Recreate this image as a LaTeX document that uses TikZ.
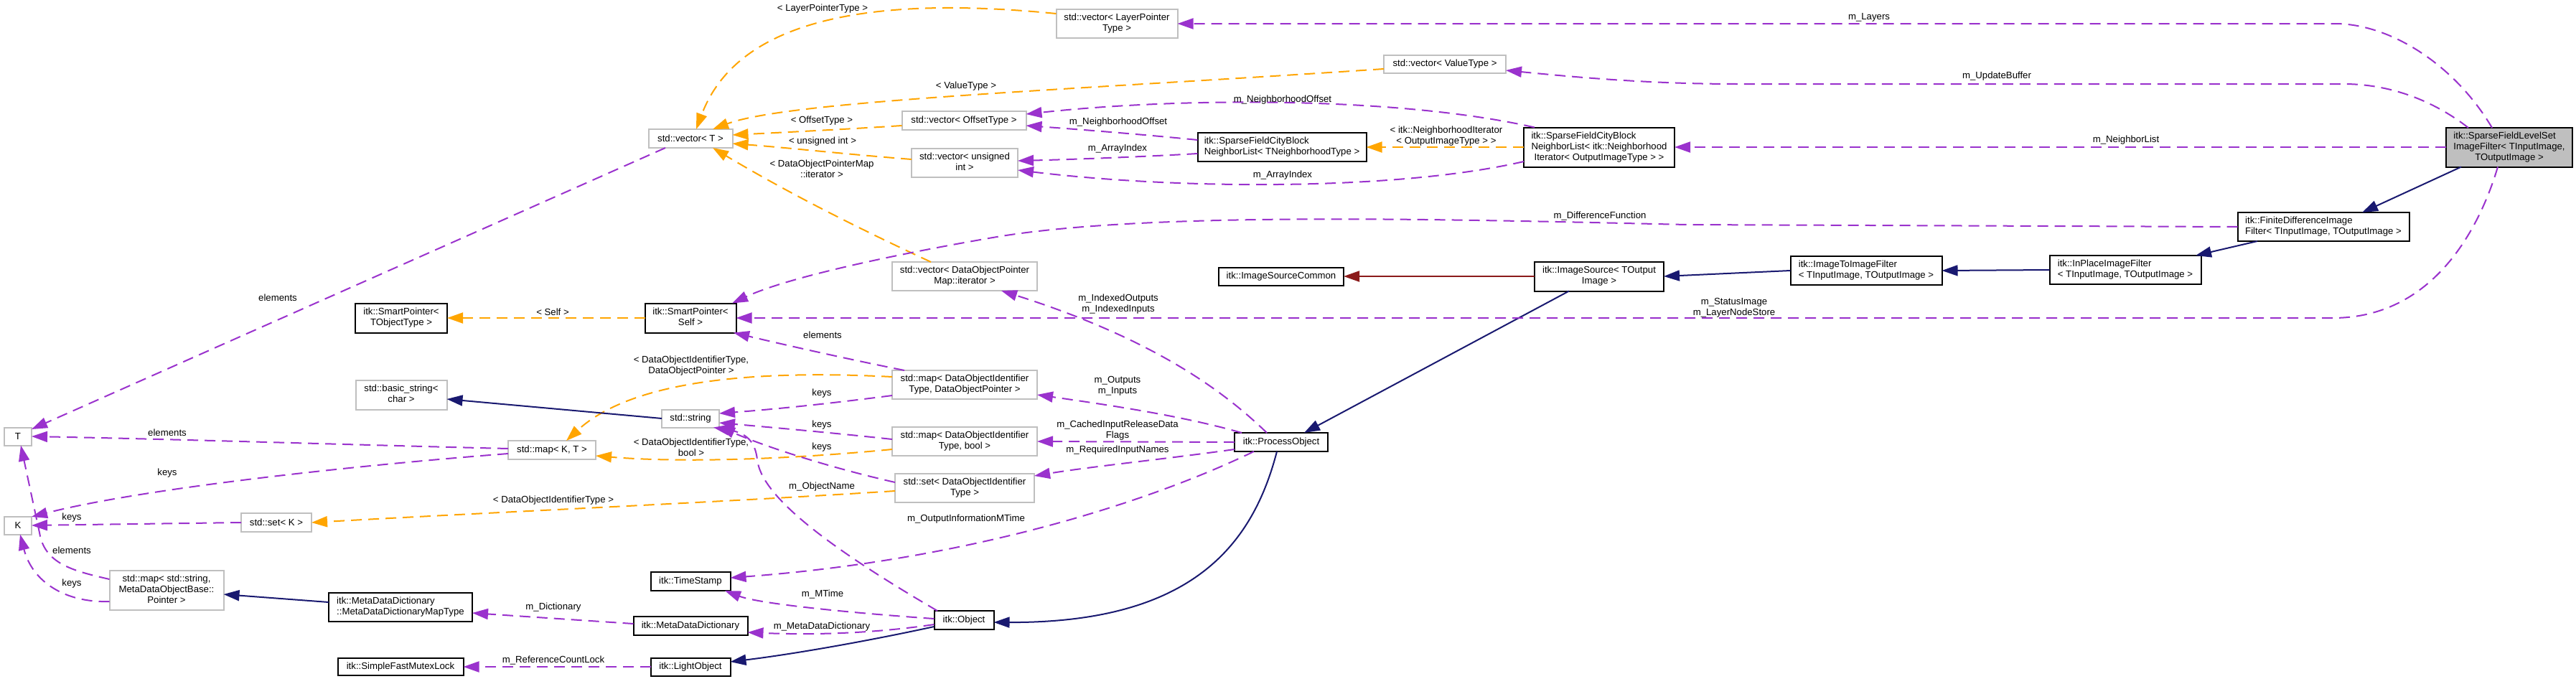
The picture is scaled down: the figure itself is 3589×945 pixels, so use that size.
\documentclass[tikz,border=0pt]{standalone}
\usepackage{fontspec}
\setmainfont{Liberation Sans}
\usetikzlibrary{arrows.meta,calc}
\definecolor{purp}{HTML}{9A32CD}
\definecolor{orng}{HTML}{FFA500}
\definecolor{navyc}{HTML}{191970}
\definecolor{fireb}{HTML}{8B1A1A}
\definecolor{gborder}{HTML}{BFBFBF}
\newcommand{\LL}[2]{\begin{tabular}{@{}l@{}}#1\\\multicolumn{1}{@{}c@{}}{#2}\end{tabular}}
\newcommand{\CC}[1]{\begin{tabular}{@{}c@{}}#1\end{tabular}}
\begin{document}
\begin{tikzpicture}[x=1pt,y=-1pt,
  font=\fontsize{13.2}{15}\selectfont,
  every node/.style={inner sep=0pt, outer sep=0pt},
  gb/.style={draw=gborder, line width=2pt, fill=white, rectangle},
  bb/.style={draw=black, line width=2pt, fill=white, rectangle},
  sz/.style 2 args={minimum width=#1pt, minimum height=#2pt},
  lbl/.style={align=center},
  tipa/.style={-{Triangle[length=22pt,width=15pt]}},
  pe/.style={draw=purp, line width=2pt, dash pattern=on 15pt off 9pt, tipa},
  oe/.style={draw=orng, line width=2pt, dash pattern=on 15pt off 9pt, tipa},
  ne/.style={draw=navyc, line width=2pt, tipa},
  re/.style={draw=fireb, line width=2pt, tipa}]
\fill[white] (0,0) rectangle (3589,945);
\useasboundingbox (0,0) rectangle (3589,945);

% nodes
\node[bb,sz={176}{55},fill=gborder] (sfls) at (3496,205) {\LL{itk::SparseFieldLevelSet\\ImageFilter< TInputImage,}{TOutputImage >}};
\node[bb,sz={239}{40}] (fdif) at (3237,316) {\LL{itk::FiniteDifferenceImage}{Filter< TInputImage, TOutputImage >}};
\node[bb,sz={211}{40}] (inplace) at (2961,376) {\LL{itk::InPlaceImageFilter}{< TInputImage, TOutputImage >}};
\node[bb,sz={211}{40}] (i2i) at (2600,377) {\LL{itk::ImageToImageFilter}{< TInputImage, TOutputImage >}};
\node[bb,sz={180}{41}] (isrc) at (2228,385) {\LL{itk::ImageSource< TOutput}{Image >}};
\node[bb,sz={174}{25}] (isc) at (1785,385) {itk::ImageSourceCommon};
\node[bb,sz={130}{26}] (po) at (1785,616) {itk::ProcessObject};
\node[bb,sz={83}{26}] (obj) at (1343,864) {itk::Object};
\node[bb,sz={111}{25}] (lobj) at (962,929) {itk::LightObject};
\node[bb,sz={175}{24}] (sfml) at (558,929) {itk::SimpleFastMutexLock};
\node[bb,sz={159}{26}] (mdd) at (962,872) {itk::MetaDataDictionary};
\node[bb,sz={200}{40}] (mddmt) at (558,846) {\LL{itk::MetaDataDictionary}{::MetaDataDictionaryMapType}};
\node[gb,sz={159}{55}] (mapstr) at (232,822) {\CC{std::map< std::string,\\MetaDataObjectBase::\\Pointer >}};
\node[gb,sz={38}{25}] (T) at (25,608) {T};
\node[gb,sz={38}{25}] (K) at (25,732) {K};
\node[gb,sz={98}{26}] (setK) at (385,728) {std::set< K >};
\node[gb,sz={122}{26}] (mapKT) at (769,627) {std::map< K, T >};
\node[gb,sz={127}{41}] (bstr) at (559,550) {\CC{std::basic\_string<\\char >}};
\node[gb,sz={80}{25}] (str) at (962,583) {std::string};
\node[bb,sz={111}{26}] (ts) at (962,810) {itk::TimeStamp};
\node[bb,sz={128}{41}] (spTO) at (559,443) {\LL{itk::SmartPointer<}{TObjectType >}};
\node[bb,sz={127}{41}] (spS) at (962,443) {\LL{itk::SmartPointer<}{Self >}};
\node[gb,sz={117}{26}] (vecT) at (962,193) {std::vector< T >};
\node[gb,sz={202}{40}] (vecDOP) at (1344,385) {\CC{std::vector< DataObjectPointer\\Map::iterator >}};
\node[gb,sz={202}{40}] (mapDOP) at (1344,536) {\CC{std::map< DataObjectIdentifier\\Type, DataObjectPointer >}};
\node[gb,sz={202}{40}] (mapDB) at (1344,615) {\CC{std::map< DataObjectIdentifier\\Type, bool >}};
\node[gb,sz={194}{40}] (setD) at (1344,680) {\CC{std::set< DataObjectIdentifier\\Type >}};
\node[gb,sz={173}{26}] (vecOff) at (1343,168) {std::vector< OffsetType >};
\node[gb,sz={148}{40}] (vecUI) at (1344,227) {\CC{std::vector< unsigned\\int >}};
\node[bb,sz={235}{40}] (cbT) at (1786,205) {\LL{itk::SparseFieldCityBlock}{NeighborList< TNeighborhoodType >}};
\node[bb,sz={210}{55}] (cbN) at (2228,205) {\LL{itk::SparseFieldCityBlock\\NeighborList< itk::Neighborhood}{Iterator< OutputImageType > >}};
\node[gb,sz={169}{40}] (vecLP) at (1556,33) {\CC{std::vector< LayerPointer\\Type >}};
\node[gb,sz={170}{25}] (vecVT) at (2013,89) {std::vector< ValueType >};

% edges
\draw[pe] ($(sfls.center)+(-24,-27)$) .. controls (3420,90) and (3330,33) .. (3253,33) -- (vecLP.east);
\draw[pe] ($(sfls.center)+(-57,-27)$) .. controls (3390,140) and (3330,117) .. (3265,117) -- (2420,117) .. controls (2300,117) and (2200,108) .. ($(vecVT.center)+(85,9)$);
\draw[pe] (sfls.west) -- (cbN.east);
\draw[ne] ($(sfls.center)+(-67,27.5)$) -- ($(fdif.center)+(54,-20)$);
\draw[ne] ($(fdif.center)+(-92,20)$) -- ($(inplace.center)+(98,-20)$);
\draw[ne] (inplace.west) -- (i2i.east);
\draw[ne] (i2i.west) -- (isrc.east);
\draw[re] (isrc.west) -- (isc.east);
\draw[ne] ($(isrc.center)+(-42,20.5)$) -- ($(po.center)+(32,-13)$);
\draw[ne] ($(po.center)+(-6,13)$) .. controls (1745,760) and (1660,868) .. ($(obj.center)+(41.5,3)$);
\draw[ne] ($(obj.center)+(-41.5,9)$) .. controls (1200,895) and (1100,912) .. ($(lobj.center)+(55.5,-7)$);
\draw[pe] (lobj.west) -- (sfml.east);
\draw[pe] ($(obj.center)+(-41.5,6)$) .. controls (1200,885) and (1110,884) .. ($(mdd.center)+(79.5,9)$);
\draw[pe] ($(mdd.center)+(-79.5,-3)$) -- ($(mddmt.center)+(100,8)$);
\draw[ne] ($(mddmt.center)+(-100,-7)$) -- ($(mapstr.center)+(79.5,6)$);
\draw[pe] ($(mapstr.center)+(-79.5,16)$) .. controls (90,840) and (45,810) .. ($(K.center)+(3,12.5)$);
\draw[pe] ($(mapstr.center)+(-79.5,-15)$) .. controls (100,795) and (62,785) .. (55,742) -- ($(T.center)+(4,12.5)$);
\draw[pe] (setK.west) -- (K.east);
\draw[oe] ($(setD.center)+(-97,4)$) .. controls (1000,700) and (700,713) .. (setK.east);
\draw[pe] ($(mapKT.center)+(-61,5)$) .. controls (500,648) and (200,680) .. ($(K.center)+(19,-12)$);
\draw[pe] ($(mapKT.center)+(-61,-2)$) .. controls (500,620) and (250,612) .. (T.east);
\draw[oe] ($(mapDOP.center)+(-101,-11)$) .. controls (1050,515) and (880,530) .. ($(mapKT.center)+(20,-13)$);
\draw[oe] ($(mapDB.center)+(-101,11)$) .. controls (1100,640) and (950,645) .. ($(mapKT.center)+(61,8)$);
\draw[pe] ($(mapDOP.center)+(-101,15)$) .. controls (1150,563) and (1080,570) .. ($(str.center)+(40,-7)$);
\draw[pe] ($(mapDB.center)+(-101,-3)$) .. controls (1150,602) and (1080,596) .. ($(str.center)+(40,6)$);
\draw[pe] ($(setD.center)+(-97,-8)$) .. controls (1150,650) and (1060,620) .. ($(str.center)+(40,11)$);
\draw[pe] ($(obj.center)+(-37,-13)$) .. controls (1150,760) and (1060,690) .. (1055,640) .. controls (1052,615) and (1040,603) .. ($(str.center)+(32,12.5)$);
\draw[pe] ($(obj.center)+(-41.5,-2)$) .. controls (1200,855) and (1060,842) .. ($(ts.center)+(48,13)$);
\draw[pe] ($(po.center)+(-38,13)$) .. controls (1600,700) and (1350,780) .. ($(ts.center)+(55.5,-5)$);
\draw[pe] ($(po.center)+(-65,10)$) .. controls (1620,640) and (1520,650) .. ($(setD.center)+(97,-17)$);
\draw[pe] (po.west) -- (mapDB.east);
\draw[pe] ($(po.center)+(-55,-13)$) .. controls (1650,580) and (1550,565) .. ($(mapDOP.center)+(101,14)$);
\draw[pe] ($(po.center)+(-20,-13)$) .. controls (1700,540) and (1600,470) .. ($(vecDOP.center)+(51,20)$);
\draw[oe] ($(vecDOP.center)+(-47,-20)$) .. controls (1200,320) and (1100,270) .. ($(vecT.center)+(31,13)$);
\draw[pe] ($(mapDOP.center)+(-84,-20)$) .. controls (1180,500) and (1100,482) .. ($(spS.center)+(60,20.5)$);
\draw[oe] (cbN.west) -- (cbT.east);
\draw[pe] ($(cbN.center)+(-90,-27.5)$) .. controls (1950,135) and (1650,135) .. ($(vecOff.center)+(86.5,-9)$);
\draw[pe] ($(cbT.center)+(-117.5,-10)$) .. controls (1600,188) and (1500,180) .. ($(vecOff.center)+(86.5,7)$);
\draw[pe] ($(cbT.center)+(-117.5,9)$) .. controls (1600,218) and (1500,222) .. ($(vecUI.center)+(74,-3)$);
\draw[pe] ($(cbN.center)+(-105,20)$) .. controls (1950,265) and (1650,265) .. ($(vecUI.center)+(74,10)$);
\draw[oe] ($(vecOff.center)+(-86.5,7)$) .. controls (1180,180) and (1100,184) .. ($(vecT.center)+(58.5,-5)$);
\draw[oe] ($(vecUI.center)+(-74,-5)$) .. controls (1180,215) and (1100,206) .. ($(vecT.center)+(58.5,7)$);
\draw[oe] ($(vecVT.center)+(-85,7)$) .. controls (1500,125) and (1100,140) .. ($(vecT.center)+(31,-13)$);
\draw[oe] ($(vecLP.center)+(-84.5,-14)$) .. controls (1230,-5) and (1030,20) .. ($(vecT.center)+(8,-13)$);
\draw[pe] ($(vecT.center)+(-35,13)$) -- ($(T.center)+(19,-10)$);
\draw[oe] (spS.west) -- (spTO.east);
\draw[ne] (str.west) -- ($(bstr.center)+(63.5,6)$);
\draw[pe] (fdif.west) -- (2350,313) .. controls (2000,305) and (1600,295) .. (1389,330) .. controls (1260,352) and (1100,385) .. ($(spS.center)+(58,-20.5)$);
\draw[pe] ($(sfls.center)+(-16,27.5)$) .. controls (3460,300) and (3400,443) .. (3250,443) -- (spS.east);

% labels
\node[lbl] (l1) at (2604,24) {m\_Layers};
\node[lbl] (l2) at (2782,106) {m\_UpdateBuffer};
\node[lbl] (l3) at (2962,195) {m\_NeighborList};
\node[lbl] (l4) at (2229,301) {m\_DifferenceFunction};
\node[lbl] (l5) at (2416,428.5) {m\_StatusImage\\m\_LayerNodeStore};
\node[lbl] (l6) at (2015,190) {< itk::NeighborhoodIterator\\< OutputImageType > >};
\node[lbl] (l7) at (1787,139) {m\_NeighborhoodOffset};
\node[lbl] (l8) at (1558,170) {m\_NeighborhoodOffset};
\node[lbl] (l9) at (1557,207) {m\_ArrayIndex};
\node[lbl] (l10) at (1787,244) {m\_ArrayIndex};
\node[lbl] (l11) at (1146,12) {< LayerPointerType >};
\node[lbl] (l12) at (1346,120) {< ValueType >};
\node[lbl] (l13) at (1145,168) {< OffsetType >};
\node[lbl] (l14) at (1146,197) {< unsigned int >};
\node[lbl] (l15) at (1145,235) {< DataObjectPointerMap\\::iterator >};
\node[lbl] (l16) at (1558,424) {m\_IndexedOutputs\\m\_IndexedInputs};
\node[lbl] (l17) at (1146,467) {elements};
\node[lbl] (l18) at (770,435) {< Self >};
\node[lbl] (l19) at (387,415) {elements};
\node[lbl] (l20) at (963,510) {< DataObjectIdentifierType,\\DataObjectPointer >};
\node[lbl] (l21) at (1145,548) {keys};
\node[lbl] (l22) at (1145,592) {keys};
\node[lbl] (l23) at (1145,623) {keys};
\node[lbl] (l24) at (963,623) {< DataObjectIdentifierType,\\bool >};
\node[lbl] (l25) at (1557,538) {m\_Outputs\\m\_Inputs};
\node[lbl] (l26) at (1557,600) {m\_CachedInputReleaseData\\Flags};
\node[lbl] (l27) at (1557,627) {m\_RequiredInputNames};
\node[lbl] (l28) at (1145,678) {m\_ObjectName};
\node[lbl] (l29) at (771,697) {< DataObjectIdentifierType >};
\node[lbl] (l30) at (1346,723) {m\_OutputInformationMTime};
\node[lbl] (l31) at (1146,828) {m\_MTime};
\node[lbl] (l32) at (1145,873) {m\_MetaDataDictionary};
\node[lbl] (l33) at (771,846) {m\_Dictionary};
\node[lbl] (l34) at (771,920) {m\_ReferenceCountLock};
\node[lbl] (l35) at (233,603) {elements};
\node[lbl] (l36) at (233,659) {keys};
\node[lbl] (l37) at (100,721) {keys};
\node[lbl] (l38) at (100,767) {elements};
\node[lbl] (l39) at (100,813) {keys};
\end{tikzpicture}
\end{document}
